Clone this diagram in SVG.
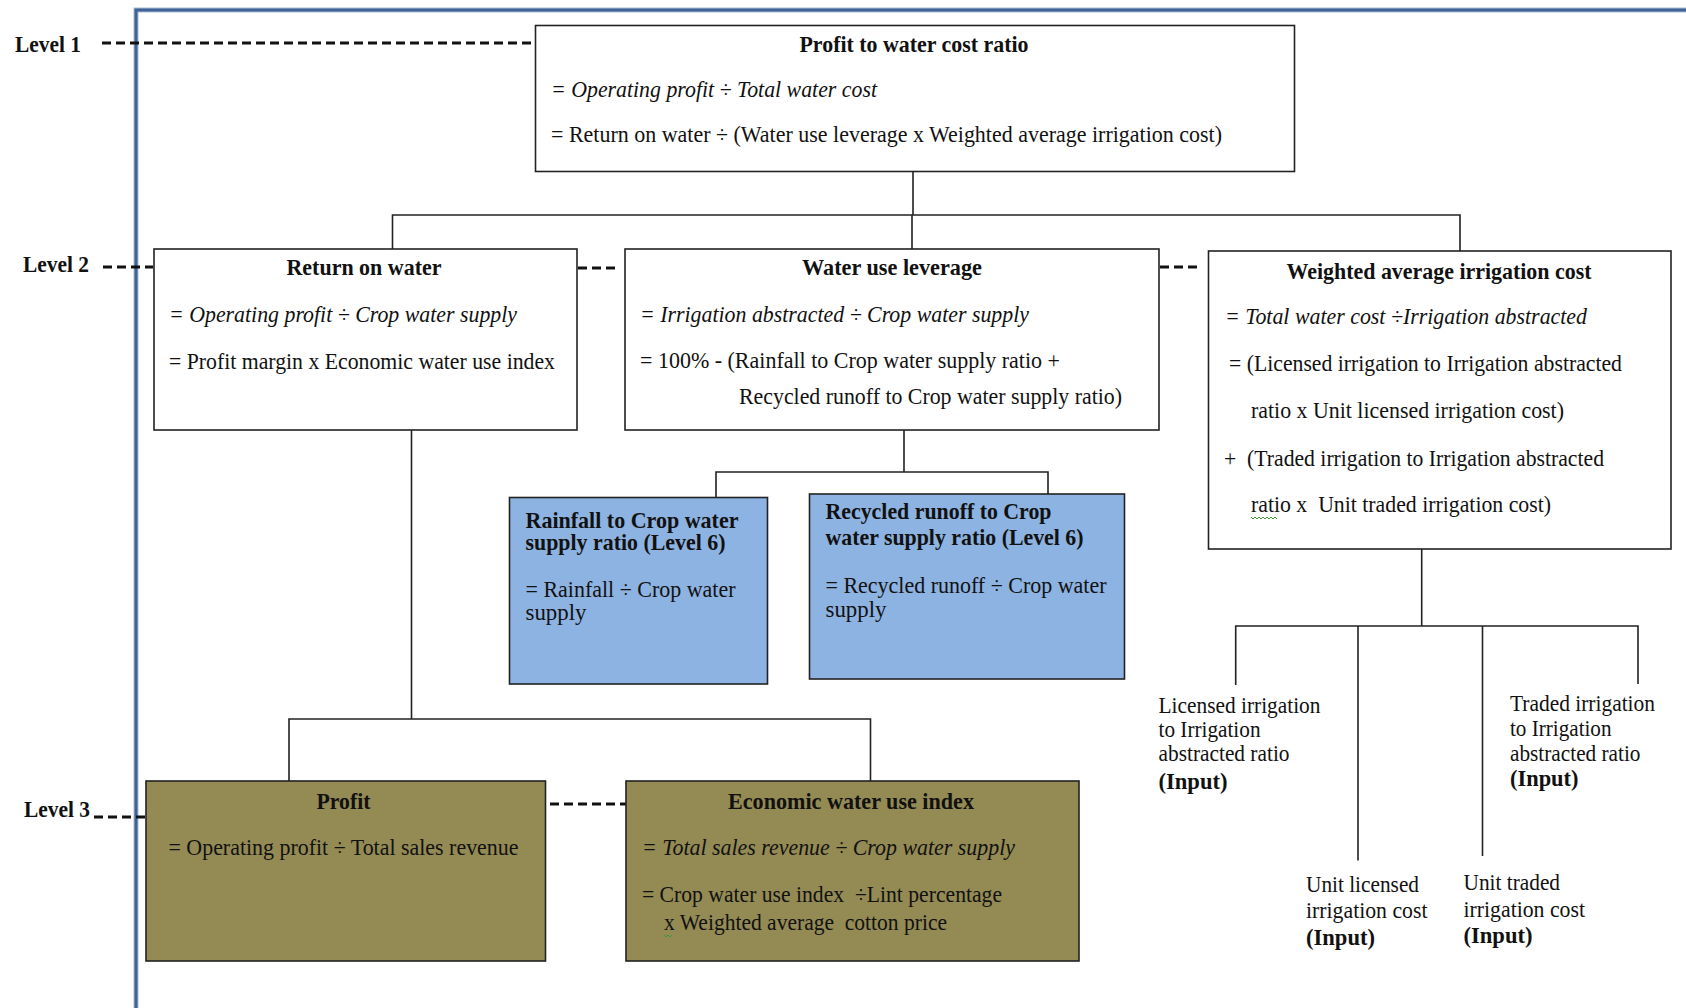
<svg xmlns="http://www.w3.org/2000/svg" width="1686" height="1008" viewBox="0 0 1686 1008">
  <style>
    .t { font-family: "Liberation Serif", "Times New Roman", serif; font-size: 23px; fill: #111; white-space: pre; }
    .b { font-weight: bold; }
    .i { font-style: italic; }
    .m { text-anchor: middle; }
    .box { fill: #ffffff; stroke: #222; stroke-width: 1.6; }
    .blue { fill: #8db3e2; stroke: #222; stroke-width: 1.6; }
    .olive { fill: #948a54; stroke: #222; stroke-width: 1.6; }
    .link { fill: none; stroke: #222; stroke-width: 1.6; }
    .lvl { fill: none; stroke: #111; stroke-width: 3; stroke-dasharray: 9 5; }
    .wavy { fill: none; stroke: #3c9a3c; stroke-width: 1; }
  </style>

  <rect width="1686" height="1008" fill="#ffffff"/>

  <!-- page frame -->
  <g id="frame">
    <path d="M136 1008 V10 H1686" fill="none" stroke="#a9bcd6" stroke-width="5"/>
    <path d="M136 1008 V10 H1686" fill="none" stroke="#3f6295" stroke-width="3"/>
  </g>

  <!-- level markers -->
  <g id="levels">
    <text class="t b" x="15" y="52" textLength="66" lengthAdjust="spacingAndGlyphs">Level 1</text>
    <line class="lvl" x1="102" y1="43" x2="535" y2="43"/>
    <text class="t b" x="23" y="272" textLength="66" lengthAdjust="spacingAndGlyphs">Level 2</text>
    <line class="lvl" x1="103" y1="267" x2="153" y2="267"/>
    <line class="lvl" x1="578" y1="268" x2="620" y2="268"/>
    <line class="lvl" x1="1160" y1="267" x2="1202" y2="267"/>
    <text class="t b" x="24" y="817" textLength="66" lengthAdjust="spacingAndGlyphs">Level 3</text>
    <line class="lvl" x1="94" y1="817" x2="146" y2="817"/>
    <line class="lvl" x1="550" y1="804" x2="626" y2="804"/>
  </g>

  <!-- connectors -->
  <g id="connectors">
    <path class="link" d="M913 171.5 V215 M392.5 249 V215 H1460 V251 M912 215 V249"/>
    <path class="link" d="M904 430 V472 M716 497.5 V472 H1048 V494"/>
    <path class="link" d="M411.5 430 V719 M289 781 V719 H870.5 V781"/>
    <path class="link" d="M1421.7 549 V626 M1235.7 685 V626 H1638 V684 M1358 626 V860.5 M1482.5 626 V856"/>
  </g>

  <!-- level 1 -->
  <g id="profit-to-water-cost-ratio">
    <rect class="box" x="535.5" y="25.5" width="759" height="146"/>
    <text class="t b m" x="914" y="52" textLength="229" lengthAdjust="spacingAndGlyphs">Profit to water cost ratio</text>
    <text class="t i" x="551" y="97" textLength="326" lengthAdjust="spacingAndGlyphs">= Operating profit ÷ Total water cost</text>
    <text class="t" x="551" y="142" textLength="671" lengthAdjust="spacingAndGlyphs">= Return on water ÷ (Water use leverage x Weighted average irrigation cost)</text>
  </g>

  <!-- level 2 -->
  <g id="return-on-water">
    <rect class="box" x="154" y="249" width="423" height="181"/>
    <text class="t b m" x="364" y="275" textLength="155" lengthAdjust="spacingAndGlyphs">Return on water</text>
    <text class="t i" x="169" y="322" textLength="348" lengthAdjust="spacingAndGlyphs">= Operating profit ÷ Crop water supply</text>
    <text class="t" x="169" y="369" textLength="386" lengthAdjust="spacingAndGlyphs">= Profit margin x Economic water use index</text>
  </g>

  <g id="water-use-leverage">
    <rect class="box" x="625" y="249" width="534" height="181"/>
    <text class="t b m" x="892" y="275" textLength="180" lengthAdjust="spacingAndGlyphs">Water use leverage</text>
    <text class="t i" x="640" y="322" textLength="389" lengthAdjust="spacingAndGlyphs">= Irrigation abstracted ÷ Crop water supply</text>
    <text class="t" x="640" y="368" textLength="420" lengthAdjust="spacingAndGlyphs">= 100% - (Rainfall to Crop water supply ratio +</text>
    <text class="t" x="739" y="404" textLength="383" lengthAdjust="spacingAndGlyphs">Recycled runoff to Crop water supply ratio)</text>
  </g>

  <g id="weighted-average-irrigation-cost">
    <rect class="box" x="1208.5" y="251" width="462.5" height="298"/>
    <text class="t b m" x="1439" y="279" textLength="305" lengthAdjust="spacingAndGlyphs">Weighted average irrigation cost</text>
    <text class="t i" x="1225" y="324" textLength="362" lengthAdjust="spacingAndGlyphs">= Total water cost ÷Irrigation abstracted</text>
    <text class="t" x="1229" y="371" textLength="393" lengthAdjust="spacingAndGlyphs">= (Licensed irrigation to Irrigation abstracted</text>
    <text class="t" x="1251" y="418" textLength="313" lengthAdjust="spacingAndGlyphs">ratio x Unit licensed irrigation cost)</text>
    <text class="t" x="1224" y="466" textLength="380" lengthAdjust="spacingAndGlyphs">+  (Traded irrigation to Irrigation abstracted</text>
    <text class="t" x="1251" y="512" textLength="300" lengthAdjust="spacingAndGlyphs">ratio x  Unit traded irrigation cost)</text>
    <polyline class="wavy" points="1251,517 1253,519 1255,517 1257,519 1259,517 1261,519 1263,517 1265,519 1267,517 1269,519 1271,517 1273,519 1275,517 1277,519"/>
  </g>

  <!-- level 6 ratios -->
  <g id="rainfall-ratio">
    <rect class="blue" x="509.5" y="497.5" width="258" height="186.5"/>
    <text class="t b" x="525.5" y="528" textLength="213" lengthAdjust="spacingAndGlyphs">Rainfall to Crop water</text>
    <text class="t b" x="525.5" y="550" textLength="200" lengthAdjust="spacingAndGlyphs">supply ratio (Level 6)</text>
    <text class="t" x="525.5" y="597" textLength="210" lengthAdjust="spacingAndGlyphs">= Rainfall ÷ Crop water</text>
    <text class="t" x="525.5" y="620" textLength="61" lengthAdjust="spacingAndGlyphs">supply</text>
  </g>

  <g id="recycled-runoff-ratio">
    <rect class="blue" x="809.5" y="494" width="315" height="185"/>
    <text class="t b" x="825.5" y="519" textLength="226" lengthAdjust="spacingAndGlyphs">Recycled runoff to Crop</text>
    <text class="t b" x="825.5" y="545" textLength="258" lengthAdjust="spacingAndGlyphs">water supply ratio (Level 6)</text>
    <text class="t" x="825.5" y="593" textLength="281" lengthAdjust="spacingAndGlyphs">= Recycled runoff ÷ Crop water</text>
    <text class="t" x="825.5" y="617" textLength="61" lengthAdjust="spacingAndGlyphs">supply</text>
  </g>

  <!-- level 3 -->
  <g id="profit">
    <rect class="olive" x="146" y="781" width="399.5" height="180"/>
    <text class="t b m" x="343.5" y="809" textLength="54" lengthAdjust="spacingAndGlyphs">Profit</text>
    <text class="t" x="168.5" y="855" textLength="350" lengthAdjust="spacingAndGlyphs">= Operating profit ÷ Total sales revenue</text>
  </g>

  <g id="economic-water-use-index">
    <rect class="olive" x="626" y="781" width="453" height="180"/>
    <text class="t b m" x="851" y="809" textLength="246" lengthAdjust="spacingAndGlyphs">Economic water use index</text>
    <text class="t i" x="642" y="855" textLength="373" lengthAdjust="spacingAndGlyphs">= Total sales revenue ÷ Crop water supply</text>
    <text class="t" x="642" y="902" textLength="360" lengthAdjust="spacingAndGlyphs">= Crop water use index  ÷Lint percentage</text>
    <text class="t" x="664" y="930" textLength="283" lengthAdjust="spacingAndGlyphs">x Weighted average  cotton price</text>
    <polyline class="wavy" points="664,935 666,937 668,935 670,937 672,935"/>
  </g>

  <!-- inputs -->
  <g id="licensed-ratio-input">
    <text class="t" x="1158.5" y="713" textLength="162" lengthAdjust="spacingAndGlyphs">Licensed irrigation</text>
    <text class="t" x="1158.5" y="737" textLength="102" lengthAdjust="spacingAndGlyphs">to Irrigation</text>
    <text class="t" x="1158.5" y="761" textLength="131" lengthAdjust="spacingAndGlyphs">abstracted ratio</text>
    <text class="t b" x="1158.5" y="789" textLength="69" lengthAdjust="spacingAndGlyphs">(Input)</text>
  </g>

  <g id="unit-licensed-cost-input">
    <text class="t" x="1306" y="892" textLength="113" lengthAdjust="spacingAndGlyphs">Unit licensed</text>
    <text class="t" x="1306" y="918" textLength="121.5" lengthAdjust="spacingAndGlyphs">irrigation cost</text>
    <text class="t b" x="1306" y="945" textLength="69" lengthAdjust="spacingAndGlyphs">(Input)</text>
  </g>

  <g id="unit-traded-cost-input">
    <text class="t" x="1463.5" y="890" textLength="96.5" lengthAdjust="spacingAndGlyphs">Unit traded</text>
    <text class="t" x="1463.5" y="916.5" textLength="121.5" lengthAdjust="spacingAndGlyphs">irrigation cost</text>
    <text class="t b" x="1463.5" y="943" textLength="69" lengthAdjust="spacingAndGlyphs">(Input)</text>
  </g>

  <g id="traded-ratio-input">
    <text class="t" x="1510" y="711" textLength="145" lengthAdjust="spacingAndGlyphs">Traded irrigation</text>
    <text class="t" x="1510" y="736" textLength="101.5" lengthAdjust="spacingAndGlyphs">to Irrigation</text>
    <text class="t" x="1510" y="760.5" textLength="130.5" lengthAdjust="spacingAndGlyphs">abstracted ratio</text>
    <text class="t b" x="1510" y="786" textLength="68.5" lengthAdjust="spacingAndGlyphs">(Input)</text>
  </g>
</svg>
